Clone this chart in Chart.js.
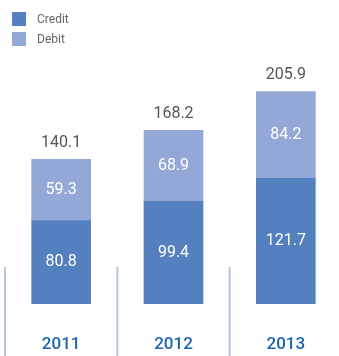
<!DOCTYPE html>
<html>
<head>
<meta charset="utf-8">
<script src="https://cdn.jsdelivr.net/npm/chart.js@4"></script>
<style>
  body { margin: 0; overflow: hidden; background: #fff; font-family: Roboto, sans-serif; }
  #wrap { position: relative; width: 342px; height: 356px; }
  .legend { position: absolute; left: 12px; top: 12px; font-size: 12px; color: #666; }
  .legend div { display: flex; align-items: center; height: 14px; margin-bottom: 6px; }
  .legend span.box { width: 14px; height: 14px; margin-right: 11px; }
</style>
</head>
<body>
<div id="wrap">
  <canvas id="debtChart"></canvas>
  <div class="legend">
    <div><span class="box" style="background:#5580c0"></span>Credit</div>
    <div><span class="box" style="background:#93a8d7"></span>Debit</div>
  </div>
</div>
<script>
// chart data
const years = ['2011', '2012', '2013'];
const credit = [80.8, 99.4, 121.7];
const debit = [59.3, 68.9, 84.2];
const totals = [140.1, 168.2, 205.9];

// value labels, year labels + separator lines
const labelPlugin = {
    id: 'labels',
    afterDatasetsDraw(chart) {
        const ctx = chart.ctx;
        const xs = chart.scales.x;
        const area = chart.chartArea;
        ctx.save();
        ctx.textAlign = 'center';
        ctx.textBaseline = 'middle';
        ctx.font = '16px Roboto';
        chart.data.datasets.forEach((ds, di) => {
            chart.getDatasetMeta(di).data.forEach((bar, i) => {
                ctx.fillStyle = '#ffffff';
                ctx.fillText(ds.data[i].toFixed(1), bar.x, (bar.y + bar.base) / 2);
                if (di === 1) {
                    ctx.fillStyle = '#555555';
                    ctx.fillText(totals[i].toFixed(1), bar.x, bar.y - 16);
                }
            });
        });
        // years under the bars
        ctx.fillStyle = '#1c63ad';
        ctx.font = '500 17px Roboto';
        years.forEach((y, i) => {
            ctx.fillText(y, xs.getPixelForValue(i), area.bottom + 41);
        });
        // separators between years
        ctx.strokeStyle = '#b5c4e4';
        ctx.lineWidth = 2;
        for (let i = 0; i < years.length; i++) {
            let x = i === 0 ? area.left : (xs.getPixelForValue(i - 1) + xs.getPixelForValue(i)) / 2;
            ctx.beginPath();
            ctx.moveTo(x, 267);
            ctx.lineTo(x, chart.height);
            ctx.stroke();
        }
        ctx.restore();
    }
};

const ctx = document.getElementById('debtChart').getContext('2d');
new Chart(ctx, {
    type: 'bar',
    data: {
        labels: years,
        datasets: [{
            label: 'Credit',
            data: credit,
            backgroundColor: '#5580c0',
            barThickness: 59
        }, {
            label: 'Debit',
            data: debit,
            backgroundColor: '#93a8d7',
            barThickness: 59
        }]
    },
    options: {
        responsive: true,
        maintainAspectRatio: false,
        animation: false,
        layout: { padding: { top: 80, left: 5, right: 0, bottom: 52 } },
        plugins: {
            legend: { display: false },
            tooltip: { enabled: false }
        },
        scales: {
            x: {
                stacked: true,
                display: false
            },
            y: {
                stacked: true,
                display: false,
                min: 0,
                max: 217
            }
        }
    },
    plugins: [labelPlugin]
});
</script>
</body>
</html>
